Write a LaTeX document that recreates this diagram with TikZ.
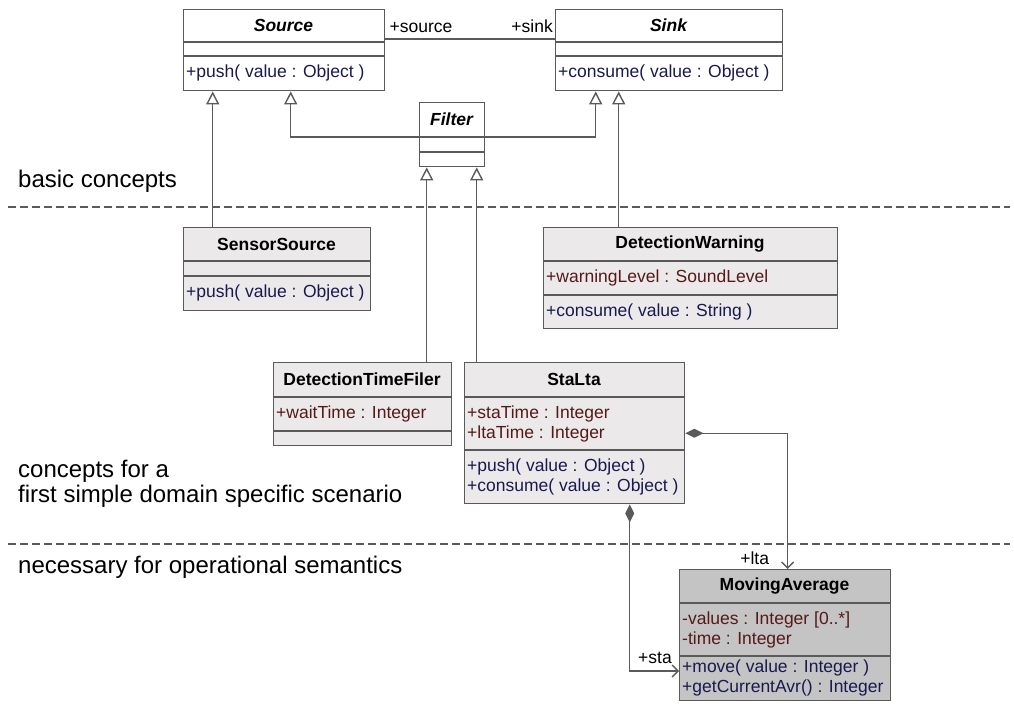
\documentclass[tikz,border=0pt]{standalone}
\usepackage{fontspec}
\setmainfont{Liberation Sans}
\usetikzlibrary{arrows.meta,positioning}

\definecolor{umlgray}{RGB}{90,90,90}
\definecolor{umllight}{RGB}{235,233,233}
\definecolor{umldark}{RGB}{196,196,196}
\definecolor{attrred}{RGB}{85,25,25}
\definecolor{opblue}{RGB}{25,25,80}

% class frame: [style]{name}{x}{y}{width}{1st divider}{2nd divider}{bottom}{title}
\newcommand\umlclass[9][clsbox]{%
  \node[#1, minimum width=#5, minimum height={#8-#4}, anchor=north west] (#2) at (#3,#4) {};
  \coordinate (#2-d1) at (#3,#6);
  \coordinate (#2-d2) at (#3,#7);
  \coordinate (#2-m1) at (#3,{(#6+#7)/2});
  \coordinate (#2-m2) at (#3,{(#7+#8)/2});
  \draw[clsline] (#2-d1) -- (#2-d1 -| #2.east) (#2-d2) -- (#2-d2 -| #2.east);
  \node[clsname] (#2-name) at ({#3+#5/2},{(#4+#6)/2}) {#9};
}

\tikzset{
  clsbox/.style={draw=umlgray, line width=1.4pt, fill=white, inner sep=0pt},
  clslight/.style={clsbox, fill=umllight},
  clsdark/.style={clsbox, fill=umldark},
  clsline/.style={draw=umlgray, line width=1.4pt},
  clsname/.style={inner sep=0pt, font=\fontsize{17.5}{20}\selectfont\bfseries},
  members/.style={anchor=west, inner xsep=3pt, inner ysep=0pt, align=left,
    font=\fontsize{17.5}{20}\selectfont},
  attrs/.style={members, text=attrred},
  ops/.style={members, text=opblue},
  rolename/.style={inner sep=0pt, font=\fontsize{17.5}{20}\selectfont},
  layertext/.style={anchor=base west, inner sep=0pt, align=left,
    font=\fontsize{24}{25}\selectfont},
  layer/.style={draw=umlgray, line width=1.1pt, dash pattern=on 8pt off 4pt},
  assoc/.style={draw=umlgray, line width=1.4pt},
  gen/.style={draw=umlgray, line width=1.4pt,
    -{Triangle[open, length=13pt, width=13pt, fill=white]}},
  comp/.style={draw=umlgray, line width=1.4pt,
    {Diamond[length=18pt, width=9pt]}-{Straight Barb[length=6pt, width=12pt]}}
}

\begin{document}
\begin{tikzpicture}[x=1pt, y=-1pt]
  \useasboundingbox (0,0) rectangle (1014,709);

  % layers
  \draw[layer] (8,207) -- (1010,207);
  \draw[layer] (8,544) -- (1010,544);
  \node[layertext] (basic) at (18,187) {basic concepts};
  \node[layertext] (domain) at (18,502) {concepts for a\\first simple domain specific scenario};
  \node[layertext] (operational) at (18,573) {necessary for operational semantics};

  % basic concepts
  \umlclass{source}{183}{9}{201}{42}{56}{90}{\itshape Source}
  \node[ops] (source-ops) at (source-m2) {+push( value : Object )};
  \umlclass{sink}{555}{9}{227}{42}{56}{90}{\itshape Sink}
  \node[ops] (sink-ops) at (sink-m2) {+consume( value : Object )};
  \umlclass{filter}{419}{102}{65}{137}{152}{166}{\itshape Filter}

  % domain specific
  \umlclass[clslight]{sensor}{183}{227}{187}{261}{276}{310}{SensorSource}
  \node[ops] (sensor-ops) at (sensor-m2) {+push( value : Object )};
  \umlclass[clslight]{warning}{543}{227}{294}{261}{295}{328}{DetectionWarning}
  \node[attrs] (warning-attrs) at (warning-m1) {+warningLevel : SoundLevel};
  \node[ops] (warning-ops) at (warning-m2) {+consume( value : String )};
  \umlclass[clslight]{timefiler}{273}{362}{178}{397}{431}{445}{DetectionTimeFiler}
  \node[attrs] (timefiler-attrs) at (timefiler-m1) {+waitTime : Integer};
  \umlclass[clslight]{stalta}{464}{362}{220}{397}{450}{503}{StaLta}
  \node[attrs] (stalta-attrs) at (stalta-m1) {+staTime : Integer\\+ltaTime : Integer};
  \node[ops] (stalta-ops) at (stalta-m2) {+push( value : Object )\\+consume( value : Object )};

  % operational semantics
  \umlclass[clsdark]{movavg}{679}{569}{211}{603}{656}{700}{MovingAverage}
  \node[attrs] (movavg-attrs) at (movavg-m1) {-values : Integer [0..*]\\-time : Integer};
  \node[ops] (movavg-ops) at (movavg-m2) {+move( value : Integer )\\+getCurrentAvr() : Integer};

  % association
  \draw[assoc] ([yshift=3pt]source-d1 -| source.east) -- ([yshift=3pt]sink-d1 -| sink.west);
  \node[rolename, anchor=base west] (source-role) at ([xshift=4pt, yshift=9pt]source-d1 -| source.east) {+source};
  \node[rolename, anchor=base east] (sink-role) at ([xshift=-2pt, yshift=9pt]sink-d1 -| sink.west) {+sink};

  % generalizations
  \draw[gen] (filter-d1) -| ([xshift=6.5pt]source.south);
  \draw[gen] (filter-d1 -| filter.east) -| ([xshift=-73.5pt]sink.south);
  \draw[gen] ([xshift=-64.5pt]sensor.north) -- ([xshift=-71.5pt]source.south);
  \draw[gen] ([xshift=-72pt]warning.north) -- ([xshift=-50.5pt]sink.south);
  \draw[gen] ([xshift=64pt]timefiler.north) -- ([xshift=-25.5pt]filter.south);
  \draw[gen] ([xshift=-98pt]stalta.north) -- ([xshift=24.5pt]filter.south);

  % compositions
  \draw[comp] (stalta.east) -| ([xshift=2.5pt]movavg.north);
  \node[rolename, anchor=base east] (lta-role) at ([xshift=-16pt, yshift=5pt]movavg.north) {+lta};
  \draw[comp] ([xshift=55pt]stalta.south) |- ([yshift=-15pt]movavg-d2);
  \node[rolename, anchor=base east] (sta-role) at ([xshift=-7pt, yshift=-7pt]movavg-d2) {+sta};
\end{tikzpicture}
\end{document}
